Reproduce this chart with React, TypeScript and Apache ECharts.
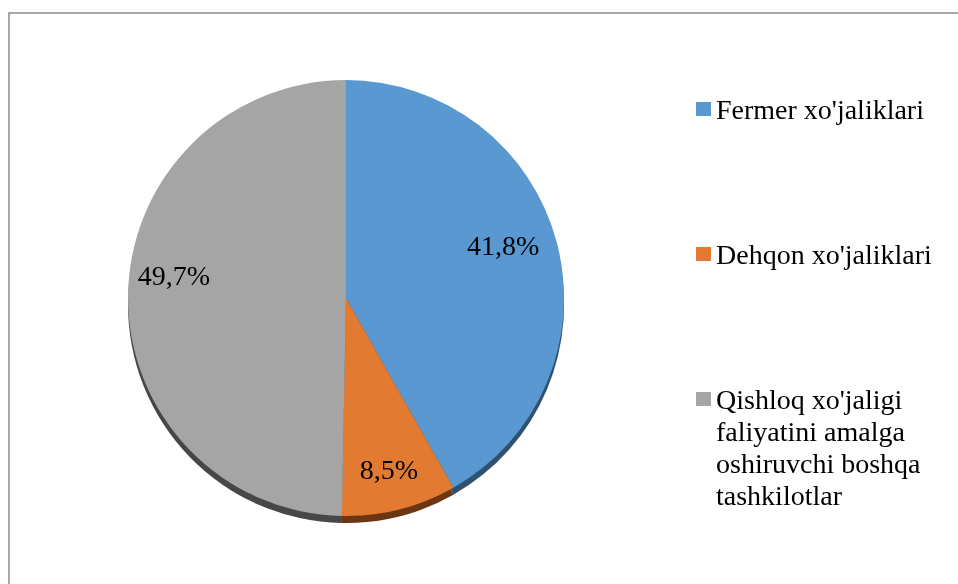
import React, { useEffect, useRef } from "react";
import * as echarts from "echarts";

const categories = [
  "Fermer xo'jaliklari",
  "Dehqon xo'jaliklari",
  "Qishloq xo'jaligi faliyatini amalga oshiruvchi boshqa tashkilotlar",
];
const values = [41.8, 8.5, 49.7];
const legendLabels = [
  "Fermer xo'jaliklari",
  "Dehqon xo'jaliklari",
  "\n\n\nQishloq xo'jaligi\nfaliyatini amalga\noshiruvchi boshqa\ntashkilotlar",
];
const faceColors = ["#5A98D2", "#E27A31", "#A5A5A5"];
const edgeColors = ["#2F5271", "#6E3511", "#474747"];

export default function App() {
  const ref = useRef<HTMLDivElement>(null);
  useEffect(() => {
    if (!ref.current) return;
    const chart = echarts.init(ref.current, undefined, { renderer: "svg" });
    const legendTops = [93, 238, 287];
    const labelOffsets = [[-12, -8], [0, 2], [3, -21]];
    const legends = categories.map((name, i) => ({
      orient: "vertical",
      left: 696,
      top: legendTops[i],
      padding: 0,
      data: [name],
      icon: "rect",
      itemWidth: 15,
      itemHeight: 14,
      itemGap: 0,
      itemTextGap: 7,
      selectedMode: false,
      formatter: legendLabels[i],
      textStyle: {
        fontFamily: "Liberation Serif",
        fontSize: 28,
        lineHeight: 32,
        color: "#000",
      },
    }));
    chart.setOption({
      animation: false,
      legend: legends,
      graphic: [
        {
          type: "rect",
          shape: { x: 9, y: 13, width: 1200, height: 1200 },
          style: { fill: "none", stroke: "#8c8c8c", lineWidth: 1.5 },
          silent: true,
        },
      ],
      series: [
        {
          type: "pie",
          name: "face",
          z: 3,
          center: [346, 298],
          radius: [0, 218],
          startAngle: 90,
          data: categories.map((name, i) => ({
            name,
            value: values[i],
            itemStyle: { color: faceColors[i] },
          })),
          label: { show: false },
          labelLine: { show: false },
        },
        {
          type: "pie",
          name: "edge",
          z: 2,
          center: [346, 305],
          radius: [0, 218],
          startAngle: 90,
          data: categories.map((name, i) => ({
            name,
            value: values[i],
            itemStyle: { color: edgeColors[i] },
          })),
          label: { show: false },
          labelLine: { show: false },
          silent: true,
        },
        {
          type: "pie",
          name: "labels",
          z: 4,
          center: [346, 298],
          radius: [126, 218],
          startAngle: 90,
          silent: true,
          data: categories.map((name, i) => ({
            name,
            value: values[i],
            itemStyle: { color: "rgba(0,0,0,0)" },
            label: {
              formatter: String(values[i]).replace(".", ",") + "%",
              offset: labelOffsets[i],
            },
          })),
          label: {
            show: true,
            position: "inside",
            fontFamily: "Liberation Serif",
            fontSize: 28,
            color: "#000",
          },
          labelLine: { show: false },
        },
      ],
    });
    return () => chart.dispose();
  }, []);
  return (
    <div
      ref={ref}
      style={{ position: "fixed", left: 0, top: 0, width: 958, height: 584 }}
    />
  );
}
